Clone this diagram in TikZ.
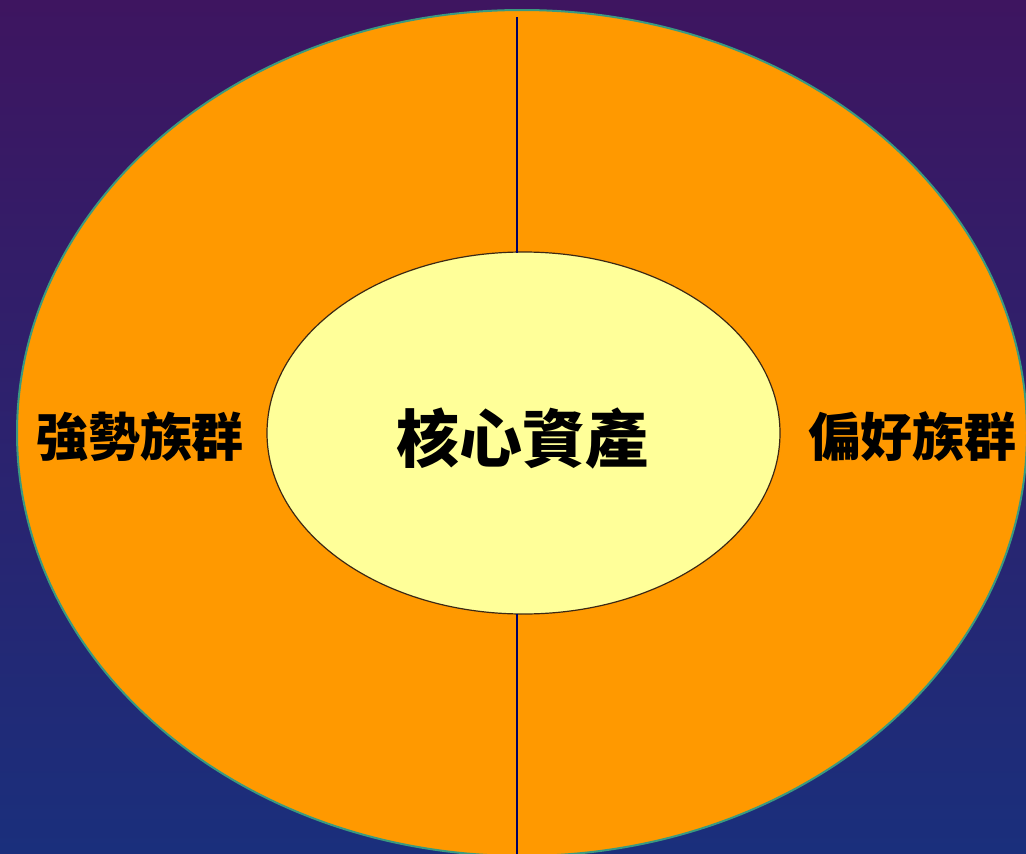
\documentclass[tikz,border=0pt]{standalone}
\usepackage{fontspec}
\usetikzlibrary{shapes.geometric}
\newfontfamily\cjk{Noto Sans CJK TC}
\begin{document}
\begin{tikzpicture}[x=1pt,y=-1pt,
  lbl/.style={font=\cjk\bfseries\fontsize{52}{52}\selectfont, inner sep=0pt},
  bigl/.style={font=\cjk\bfseries\fontsize{63}{63}\selectfont, inner sep=0pt},
  divider/.style={draw=blue!40!black, line width=1.6pt}]
\useasboundingbox (0,0) rectangle (1026,854);
\shade[top color={rgb,255:red,62;green,21;blue,96}, bottom color={rgb,255:red,26;green,47;blue,124}] (0,0) rectangle (1026,854);
\begin{scope}
\clip (0,0) rectangle (1026,854);
\path[fill={rgb,255:red,255;green,153;blue,0}, draw={rgb,255:red,58;green,154;blue,128}, line width=2pt]
  (522,433) ellipse [x radius=505, y radius=423];
\end{scope}
\coordinate (ltop) at (517,17);
\coordinate (lbot) at (517,854);
\node[ellipse, draw={rgb,255:red,60;green,40;blue,20}, line width=1.2pt, fill={rgb,255:red,255;green,255;blue,153}, inner sep=0pt, minimum width=513pt, minimum height=362pt] (core) at (523.5,433) {};
\coordinate (ctop) at (517,252.5);
\coordinate (cbot) at (517,613.5);
\draw[divider] (ltop) -- (ctop);
\draw[divider] (cbot) -- (lbot);
\node[bigl] (center) at (522,439) {核心資產};
\node[lbl] (left) at (140,437) {強勢族群};
\node[lbl] (right) at (912,437) {偏好族群};
\end{tikzpicture}
\end{document}
